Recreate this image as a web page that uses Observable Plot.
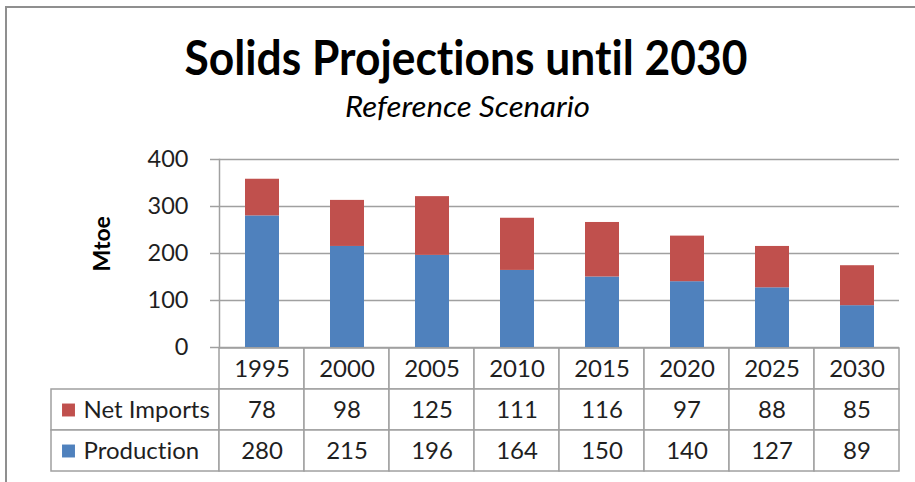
<!DOCTYPE html>
<html>
<head>
<meta charset="utf-8">
<script src="https://cdn.jsdelivr.net/npm/d3@7"></script>
<script src="https://cdn.jsdelivr.net/npm/@observablehq/plot@0.6"></script>
<style>
  body { margin: 0; background: #fff; font-family: Lato, "Noto Sans", sans-serif; font-variant-ligatures: none; }
  #wrap { position: relative; width: 915px; height: 482px; overflow: hidden; background: #fff; }
  #border { position: absolute; left: 5px; top: 6px; width: 960px; height: 520px;
            border-left: 2px solid #8f8f8f; border-top: 2px solid #8f8f8f; }
  .layer { position: absolute; left: 0; }
  svg text { font-variant-ligatures: none; }
</style>
</head>
<body>
<div id="wrap">
  <div id="border"></div>
  <svg class="layer" id="titles" style="top:0" width="915" height="140">
    <text x="466" y="75" text-anchor="middle" font-family="Lato, 'Noto Sans', sans-serif"
          font-weight="bold" font-size="47" fill="#000" textLength="563"
          lengthAdjust="spacingAndGlyphs">Solids Projections until 2030</text>
    <text x="467.5" y="117" text-anchor="middle" font-family="Lato, 'Noto Sans', sans-serif"
          font-style="italic" font-size="28" fill="#000" textLength="245"
          lengthAdjust="spacingAndGlyphs">Reference Scenario</text>
  </svg>
  <div class="layer" id="table" style="top:347px"></div>
  <div class="layer" id="chart" style="top:140px"></div>
</div>
<script>
// ---- data ----
const years = [1995, 2000, 2005, 2010, 2015, 2020, 2025, 2030];
const netImports = [78, 98, 125, 111, 116, 97, 88, 85];
const production = [280, 215, 196, 164, 150, 140, 127, 89];
const seriesNames = ["Net Imports", "Production"];
const seriesColors = ["#C0504D", "#4F81BD"];
const yTicks = [0, 100, 200, 300, 400];
const yLabel = "Mtoe";

// ---- derived tables ----
const barData = [];
years.forEach((yr, i) => {
  barData.push({year: yr, series: "Production", value: production[i]});
  barData.push({year: yr, series: "Net Imports", value: netImports[i]});
});
const tableRows = ["header", "Net Imports", "Production"];
const tableCells = [];
years.forEach((yr, i) => {
  tableCells.push({year: yr, row: "header", label: String(yr)});
  tableCells.push({year: yr, row: "Net Imports", label: String(netImports[i])});
  tableCells.push({year: yr, row: "Production", label: String(production[i])});
});

const gridColor = "#a0a0a0";
const textColor = "#1f1f1f";
const font = "Lato, 'Noto Sans', sans-serif";

// ---- chart ----
const chart = Plot.plot({
  width: 915, height: 219,
  marginLeft: 219, marginRight: 16, marginTop: 19, marginBottom: 12,
  style: {background: "transparent", overflow: "visible", fontFamily: font},
  x: {type: "band", domain: years, paddingInner: 0.6, paddingOuter: 0.3, axis: null},
  y: {domain: [0, 400], axis: null, label: null},
  color: {domain: seriesNames, range: seriesColors},
  marks: [
    Plot.gridY(yTicks, {stroke: gridColor, strokeOpacity: 1, strokeWidth: 1.5}),
    Plot.frame({anchor: "left", stroke: gridColor, strokeWidth: 1.5}),
    Plot.barY(barData, {x: "year", y: "value", fill: "series", order: ["Production", "Net Imports"]}),
    Plot.axisY(yTicks, {tickSize: 9, tickPadding: 22, fontSize: 23.5, stroke: gridColor, fill: textColor, strokeWidth: 1.5, label: null}),
    Plot.text([yLabel], {text: d => d, frameAnchor: "left", dx: -117, dy: 18, rotate: -90,
      fontWeight: "bold", fontSize: 23, fill: "#000"})
  ]
});
document.getElementById("chart").appendChild(chart);

// ---- data table ----
function legendBorders(index, scales, values, dims) {
  const y = scales.y;
  const bw = y.bandwidth ? y.bandwidth() : (dims.height - dims.marginTop - dims.marginBottom) / tableRows.length;
  const g = d3.create("svg:g");
  for (const s of seriesNames) {
    g.append("rect")
      .attr("x", dims.marginLeft - 168).attr("y", y(s))
      .attr("width", 168).attr("height", bw)
      .attr("fill", "white").attr("stroke", gridColor).attr("stroke-width", 1.5);
  }
  return g.node();
}

const table = Plot.plot({
  width: 915, height: 125,
  marginLeft: 219, marginRight: 16, marginTop: 0, marginBottom: 1,
  style: {background: "transparent", overflow: "visible", fontFamily: font},
  x: {type: "band", domain: years, padding: 0, axis: null},
  y: {type: "band", domain: tableRows, padding: 0, axis: null},
  color: {domain: seriesNames, range: seriesColors},
  marks: [
    legendBorders,
    Plot.cell(tableCells, {x: "year", y: "row", fill: "white", stroke: gridColor, strokeWidth: 1.5, inset: 0}),
    Plot.text(tableCells, {x: "year", y: "row", text: "label", fontSize: 24, fill: textColor}),
    Plot.dot(seriesNames, {y: d => d, frameAnchor: "left", dx: -151, symbol: "square", r: 7.3, fill: d => d, stroke: null}),
    Plot.text(seriesNames, {y: d => d, text: d => d, frameAnchor: "left", dx: -136, textAnchor: "start", fontSize: 24, fill: textColor})
  ]
});
document.getElementById("table").appendChild(table);
</script>
</body>
</html>
